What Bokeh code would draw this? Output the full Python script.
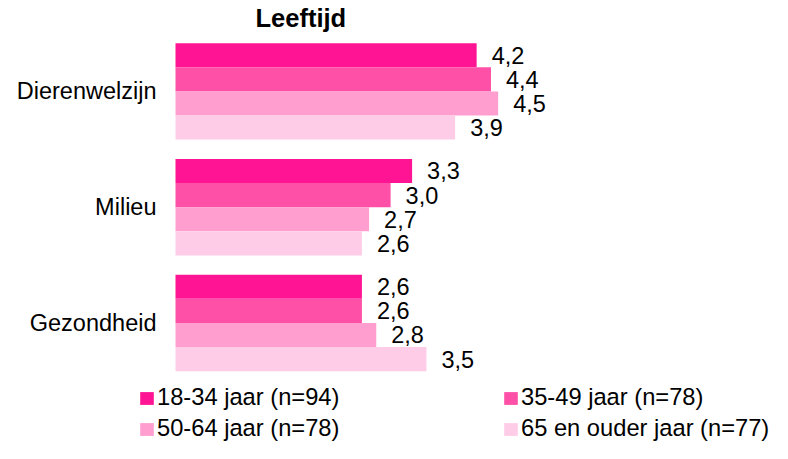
from bokeh.plotting import figure
from bokeh.models import Legend, LegendItem, ColumnDataSource
from bokeh.core.properties import value
from bokeh.embed import file_html
from bokeh.resources import INLINE

categories = ["Dierenwelzijn", "Milieu", "Gezondheid"]
series = ["18-34 jaar (n=94)", "35-49 jaar (n=78)", "50-64 jaar (n=78)", "65 en ouder jaar (n=77)"]
colors = ["#FF1493", "#FF50A8", "#FF9ECF", "#FFCCE8"]
v_1834 = [4.2, 3.3, 2.6]
v_3549 = [4.4, 3.0, 2.6]
v_5064 = [4.5, 2.7, 2.8]
v_65plus = [3.9, 2.6, 3.5]
values = [v_1834, v_3549, v_5064, v_65plus]

FONT = "Liberation Sans"
GROUP = 4.8
n_cat = len(categories)
cat_y = [GROUP * (n_cat - 1 - i) for i in range(n_cat)]

W, H = 772, 443
p = figure(width=W, height=H, output_backend="svg", toolbar_location=None,
           x_range=(-2.4407, 8.3264), y_range=(-5.0, 12.0),
           x_axis_type=None, y_axis_type=None,
           min_border_left=0, min_border_right=0, min_border_top=0,
           min_border_bottom=0)

p.title.text = "Leeftijd"
p.title.text_font = FONT
p.title.text_font_size = "25.5px"
p.title.text_font_style = "bold"
p.title.text_color = "black"
p.title.align = "left"
p.title.offset = 255
p.title.standoff = 3

renderers = []
for j, (name, col, vals) in enumerate(zip(series, colors, values)):
    ys = [c + (1.5 - j) for c in cat_y]
    src = ColumnDataSource(dict(y=ys, right=vals,
                                label=[f"{v:.1f}".replace(".", ",") for v in vals]))
    r = p.hbar(y="y", right="right", left=0, height=1.0, fill_color=col,
               line_color=None, source=src)
    p.text(x="right", y="y", text="label", source=src, x_offset=15,
           text_baseline="middle", text_align="left", text_font=value(FONT),
           text_font_size="23.5px", text_color="black")
    renderers.append(r)

# category labels
cat_src = ColumnDataSource(dict(x=[0] * n_cat, y=cat_y, text=categories))
p.text(x="x", y="y", text="text", source=cat_src, x_offset=-19,
       text_align="right", text_baseline="middle", text_font=value(FONT),
       text_font_size="23.5px", text_color="black")

common = dict(orientation="vertical", padding=0, margin=0, spacing=4,
              glyph_width=17, glyph_height=16, label_standoff=2,
              label_text_font=FONT, label_text_font_size="23.7px",
              label_text_color="black", border_line_color=None,
              background_fill_alpha=0)
leg1 = Legend(items=[LegendItem(label=value(series[0]), renderers=[renderers[0]]),
                     LegendItem(label=value(series[2]), renderers=[renderers[2]])],
              location=(138, 1), **common)
leg2 = Legend(items=[LegendItem(label=value(series[1]), renderers=[renderers[1]]),
                     LegendItem(label=value(series[3]), renderers=[renderers[3]])],
              location=(502, 1), **common)
p.add_layout(leg1)
p.add_layout(leg2)

p.grid.visible = False
p.outline_line_color = None

open("out.html", "w").write(file_html(p, INLINE))
